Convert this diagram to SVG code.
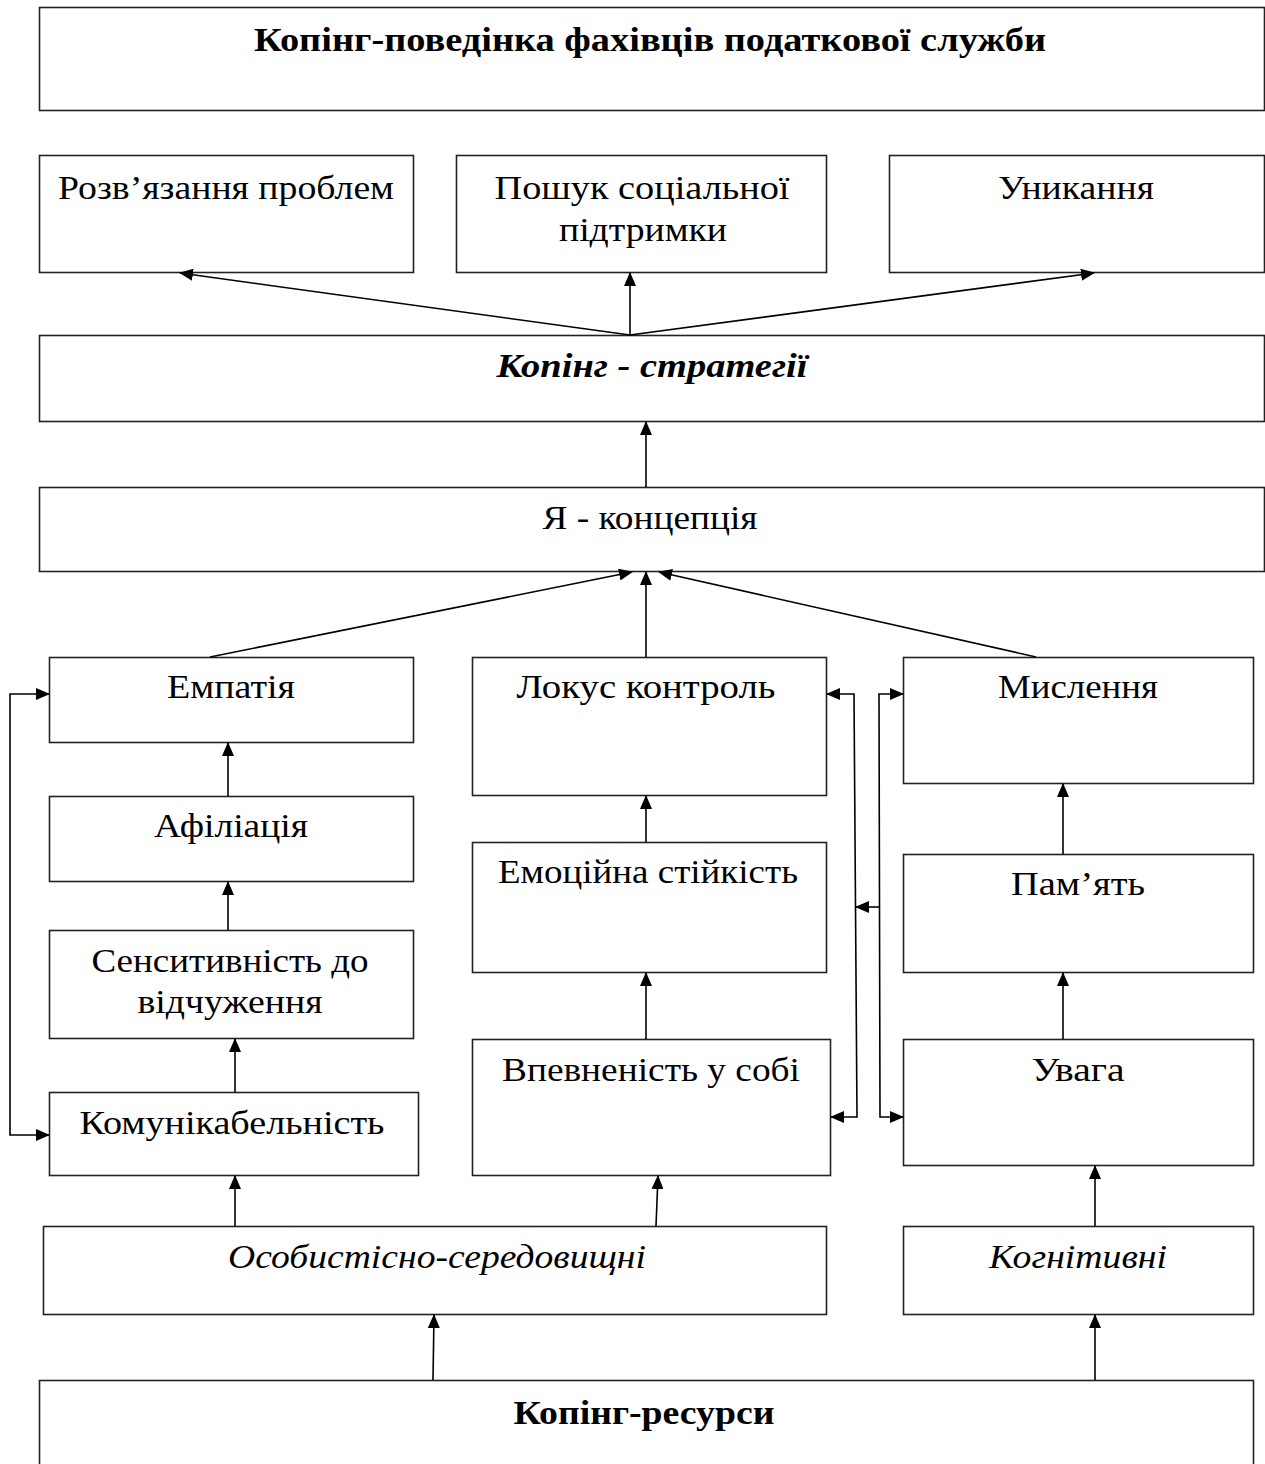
<svg xmlns="http://www.w3.org/2000/svg" width="1265" height="1464" viewBox="0 0 1265 1464">
<defs>
<marker id="ah" markerUnits="userSpaceOnUse" markerWidth="14" markerHeight="12" refX="13" refY="6" orient="auto-start-reverse" viewBox="0 0 14 12">
<path d="M0,0 L14,6 L0,12 Z" fill="#000"/>
</marker>
</defs>
<style>
.box{fill:#fff;stroke:#222;stroke-width:1.6}
.t{font-family:"Liberation Serif","Times New Roman",serif;font-size:33px;fill:#000;text-anchor:middle}
.b{font-weight:bold}
.i{font-style:italic}
.c{fill:none;stroke:#000;stroke-width:1.6}
</style>
<rect width="1265" height="1464" fill="#fff"/>
<g id="n-title"><rect class="box" x="39.5" y="7.5" width="1225" height="103"/><text class="t b" x="650" y="51" textLength="792" lengthAdjust="spacingAndGlyphs">Копінг-поведінка фахівців податкової служби</text></g>
<g id="n-rozv"><rect class="box" x="39.5" y="155.5" width="374" height="117"/><text class="t" x="226" y="199" textLength="336" lengthAdjust="spacingAndGlyphs">Розв’язання проблем</text></g>
<g id="n-poshuk"><rect class="box" x="456.5" y="155.5" width="370" height="117"/><text class="t" x="642" y="199" textLength="295" lengthAdjust="spacingAndGlyphs">Пошук соціальної</text><text class="t" x="643" y="241" textLength="168" lengthAdjust="spacingAndGlyphs">підтримки</text></g>
<g id="n-unyk"><rect class="box" x="889.5" y="155.5" width="375" height="117"/><text class="t" x="1076" y="199" textLength="156" lengthAdjust="spacingAndGlyphs">Уникання</text></g>
<g id="n-strat"><rect class="box" x="39.5" y="335.5" width="1225" height="86"/><text class="t b i" x="652" y="377" textLength="311" lengthAdjust="spacingAndGlyphs">Копінг - стратегії</text></g>
<g id="n-ya"><rect class="box" x="39.5" y="487.5" width="1225" height="84"/><text class="t" x="650" y="529" textLength="215" lengthAdjust="spacingAndGlyphs">Я - концепція</text></g>
<g id="n-empat"><rect class="box" x="49.5" y="657.5" width="364" height="85"/><text class="t" x="231" y="698" textLength="128" lengthAdjust="spacingAndGlyphs">Емпатія</text></g>
<g id="n-lokus"><rect class="box" x="472.5" y="657.5" width="354" height="138"/><text class="t" x="646" y="698" textLength="259" lengthAdjust="spacingAndGlyphs">Локус контроль</text></g>
<g id="n-myslen"><rect class="box" x="903.5" y="657.5" width="350" height="126"/><text class="t" x="1078" y="698" textLength="160" lengthAdjust="spacingAndGlyphs">Мислення</text></g>
<g id="n-afil"><rect class="box" x="49.5" y="796.5" width="364" height="85"/><text class="t" x="231" y="837" textLength="154" lengthAdjust="spacingAndGlyphs">Афіліація</text></g>
<g id="n-emoc"><rect class="box" x="472.5" y="842.5" width="354" height="130"/><text class="t" x="648" y="883" textLength="300" lengthAdjust="spacingAndGlyphs">Емоційна стійкість</text></g>
<g id="n-pamyat"><rect class="box" x="903.5" y="854.5" width="350" height="118"/><text class="t" x="1078" y="895" textLength="134" lengthAdjust="spacingAndGlyphs">Пам’ять</text></g>
<g id="n-sens"><rect class="box" x="49.5" y="930.5" width="364" height="108"/><text class="t" x="230" y="972" textLength="277" lengthAdjust="spacingAndGlyphs">Сенситивність до</text><text class="t" x="230" y="1013" textLength="185" lengthAdjust="spacingAndGlyphs">відчуження</text></g>
<g id="n-vpevn"><rect class="box" x="472.5" y="1039.5" width="358" height="136"/><text class="t" x="651" y="1081" textLength="298" lengthAdjust="spacingAndGlyphs">Впевненість у собі</text></g>
<g id="n-uvaga"><rect class="box" x="903.5" y="1039.5" width="350" height="126"/><text class="t" x="1078" y="1081" textLength="93" lengthAdjust="spacingAndGlyphs">Увага</text></g>
<g id="n-komun"><rect class="box" x="49.5" y="1092.5" width="369" height="83"/><text class="t" x="232" y="1134" textLength="305" lengthAdjust="spacingAndGlyphs">Комунікабельність</text></g>
<g id="n-osob"><rect class="box" x="43.5" y="1226.5" width="783" height="88"/><text class="t i" x="437" y="1268" textLength="418" lengthAdjust="spacingAndGlyphs">Особистісно-середовищні</text></g>
<g id="n-kogn"><rect class="box" x="903.5" y="1226.5" width="350" height="88"/><text class="t i" x="1078" y="1268" textLength="178" lengthAdjust="spacingAndGlyphs">Когнітивні</text></g>
<g id="n-resursy"><rect class="box" x="39.5" y="1380.5" width="1214" height="100"/><text class="t b" x="644" y="1424" textLength="261" lengthAdjust="spacingAndGlyphs">Копінг-ресурси</text></g>
<g id="connectors">
<line class="c" x1="630" y1="335" x2="180" y2="273" marker-end="url(#ah)"/>
<line class="c" x1="630" y1="335" x2="630" y2="273" marker-end="url(#ah)"/>
<line class="c" x1="630" y1="335" x2="1094" y2="273" marker-end="url(#ah)"/>
<line class="c" x1="646" y1="487" x2="646" y2="422" marker-end="url(#ah)"/>
<line class="c" x1="210" y1="657" x2="632" y2="572" marker-end="url(#ah)"/>
<line class="c" x1="646" y1="657" x2="646" y2="572" marker-end="url(#ah)"/>
<line class="c" x1="1036" y1="657" x2="659" y2="572" marker-end="url(#ah)"/>
<line class="c" x1="228" y1="796" x2="228" y2="743" marker-end="url(#ah)"/>
<line class="c" x1="228" y1="930" x2="228" y2="882" marker-end="url(#ah)"/>
<line class="c" x1="235" y1="1092" x2="235" y2="1039" marker-end="url(#ah)"/>
<line class="c" x1="235" y1="1226" x2="235" y2="1176" marker-end="url(#ah)"/>
<line class="c" x1="656" y1="1226" x2="658" y2="1176" marker-end="url(#ah)"/>
<line class="c" x1="433" y1="1380" x2="434" y2="1315" marker-end="url(#ah)"/>
<line class="c" x1="1095" y1="1380" x2="1095" y2="1315" marker-end="url(#ah)"/>
<line class="c" x1="1095" y1="1226" x2="1095" y2="1166" marker-end="url(#ah)"/>
<line class="c" x1="1063" y1="1039" x2="1063" y2="973" marker-end="url(#ah)"/>
<line class="c" x1="1063" y1="854" x2="1063" y2="784" marker-end="url(#ah)"/>
<line class="c" x1="646" y1="1039" x2="646" y2="973" marker-end="url(#ah)"/>
<line class="c" x1="646" y1="842" x2="646" y2="796" marker-end="url(#ah)"/>
<polyline class="c" points="49,694 10,694 10,1135 49,1135" marker-start="url(#ah)" marker-end="url(#ah)"/>
<polyline class="c" points="827,694 854,694 857,1117 831,1117" marker-start="url(#ah)" marker-end="url(#ah)"/>
<polyline class="c" points="903,694 879,694 880,1117 903,1117" marker-start="url(#ah)" marker-end="url(#ah)"/>
<line class="c" x1="879" y1="907" x2="856" y2="907" marker-end="url(#ah)"/>
</g>
</svg>
